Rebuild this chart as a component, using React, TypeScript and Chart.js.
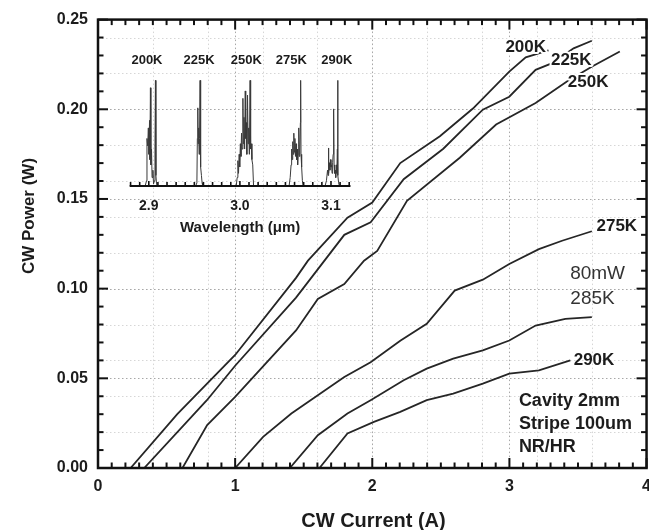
import React, { useEffect, useRef } from "react";
import { Chart, registerables } from "chart.js";
Chart.register(...registerables);

const FONT = 'Arial, "Liberation Sans", Helvetica, sans-serif';

// ---------- main L-I curves: CW current (A) vs CW power (W) ----------
const CUR_200K = [0.238, 0.578, 1.0, 1.444, 1.531, 1.819, 2.0, 2.204, 2.493, 2.734, 2.999, 3.119, 3.285];
const PWR_200K = [0, 0.030, 0.063, 0.106, 0.1156, 0.1396, 0.148, 0.170, 0.185, 0.2004, 0.221, 0.229, 0.2328];

const CUR_225K = [0.337, 0.794, 1.0, 1.444, 1.796, 1.988, 2.229, 2.518, 2.806, 2.999, 3.191, 3.312, 3.468, 3.601];
const PWR_225K = [0, 0.0378, 0.057, 0.095, 0.130, 0.137, 0.161, 0.178, 0.1998, 0.207, 0.222, 0.2257, 0.234, 0.2382];

const CUR_250K = [0.616, 0.796, 1.0, 1.444, 1.603, 1.796, 1.94, 2.036, 2.253, 2.638, 2.903, 3.191, 3.422, 3.603, 3.805];
const PWR_250K = [0, 0.0239, 0.0396, 0.0767, 0.0943, 0.1026, 0.1156, 0.121, 0.149, 0.173, 0.1915, 0.2035, 0.2156, 0.2239, 0.2322];

const CUR_275K = [1.0, 1.204, 1.41, 1.796, 1.988, 2.204, 2.397, 2.601, 2.806, 2.999, 3.215, 3.384, 3.601];
const PWR_275K = [0, 0.0174, 0.0304, 0.0507, 0.059, 0.071, 0.0804, 0.0989, 0.105, 0.1137, 0.122, 0.1267, 0.132];

const CUR_285K = [1.399, 1.603, 1.819, 1.988, 2.229, 2.397, 2.59, 2.806, 2.999, 3.191, 3.408, 3.601];
const PWR_285K = [0, 0.0183, 0.0304, 0.0378, 0.0489, 0.0554, 0.061, 0.0656, 0.0711, 0.0794, 0.0832, 0.0841];

const CUR_290K = [1.615, 1.819, 2.012, 2.204, 2.397, 2.59, 2.806, 2.999, 3.215, 3.444];
const PWR_290K = [0, 0.0193, 0.0257, 0.0313, 0.0378, 0.0415, 0.047, 0.0526, 0.0544, 0.060];

// ---------- inset spectra: wavelength (um) vs normalised intensity ----------
const WL_200K = [2.8960, 2.8975, 2.8980, 2.8988, 2.8995, 2.9002, 2.9008, 2.9012, 2.9018, 2.9023, 2.9030, 2.9036, 2.9045, 2.9052, 2.9062, 2.9068, 2.9073, 2.9078, 2.9085, 2.9092];
const SP_200K = [0, 0.05, 0.45, 0.38, 0.55, 0.30, 0.62, 0.25, 0.93, 0.20, 0.35, 0.08, 0.15, 0.02, 0.05, 0.40, 1.0, 0.10, 0.02, 0];

const WL_225K = [2.9515, 2.9528, 2.9533, 2.9538, 2.9542, 2.9548, 2.9552, 2.9557, 2.9563, 2.9566, 2.9572, 2.9578, 2.9585, 2.9592];
const SP_225K = [0, 0.03, 0.45, 0.74, 0.40, 0.55, 0.30, 0.45, 1.0, 0.25, 0.18, 0.10, 0.03, 0];

const WL_250K = [2.9960, 2.9970, 2.9978, 2.9985, 2.9992, 2.9998, 3.0005, 3.0012, 3.0018, 3.0024, 3.0033, 3.0038, 3.0045, 3.0052, 3.0059, 3.0064, 3.0070, 3.0076, 3.0084, 3.0090, 3.0097, 3.0104, 3.0112, 3.0118, 3.0125, 3.0132, 3.0141, 3.0150];
const SP_250K = [0, 0.08, 0.24, 0.12, 0.30, 0.18, 0.40, 0.28, 0.50, 0.35, 0.83, 0.40, 0.65, 0.35, 0.90, 0.45, 0.60, 0.30, 0.86, 0.40, 0.55, 0.30, 1.0, 0.35, 0.40, 0.25, 0.20, 0];

const WL_275K = [3.0540, 3.0552, 3.0562, 3.0568, 3.0574, 3.0580, 3.0586, 3.0592, 3.0598, 3.0604, 3.0610, 3.0616, 3.0622, 3.0628, 3.0634, 3.0640, 3.0646, 3.0652, 3.0658, 3.0664, 3.0667, 3.0671, 3.0678, 3.0686, 3.0694];
const SP_275K = [0, 0.08, 0.20, 0.35, 0.25, 0.42, 0.30, 0.50, 0.32, 0.45, 0.28, 0.40, 0.25, 0.35, 0.20, 0.30, 0.55, 0.28, 0.35, 0.60, 1.0, 0.30, 0.18, 0.05, 0];

const WL_290K = [3.0935, 3.0950, 3.0962, 3.0968, 3.0972, 3.0976, 3.0982, 3.0988, 3.0994, 3.1000, 3.1006, 3.1012, 3.1018, 3.1024, 3.1029, 3.1034, 3.1040, 3.1046, 3.1052, 3.1058, 3.1064, 3.1070, 3.1073, 3.1077, 3.1084, 3.1092];
const SP_290K = [0, 0.05, 0.15, 0.10, 0.36, 0.12, 0.22, 0.15, 0.25, 0.18, 0.20, 0.12, 0.22, 0.30, 0.73, 0.20, 0.12, 0.15, 0.08, 0.20, 0.12, 0.35, 1.0, 0.10, 0.03, 0];

// ---------- text ----------
const X_TITLE = "CW Current (A)";
const Y_TITLE = "CW Power (W)";
const INSET_TITLE = "Wavelength (\u03bcm)";
const INSET_TICKS = [2.9, 3.0, 3.1];
const INSET_TAGS = ["200K", "225K", "250K", "275K", "290K"];
const INSET_TAG_WL = [2.8980, 2.9551, 3.0070, 3.0565, 3.1065];
const INSET_TITLE_WL = 3.0003;

// ---------- layout ----------
const CW = 660, CH = 530;
const AREA_L = 98, AREA_R = 652, AREA_T = 18, AREA_B = 468;
const INSET_PX_PER_UM = 920;
const INSET_29_PX = 149.3;
const INSET_BASE_PX = 185;
const INSET_UNIT_PX = 106;
const XI_MIN = 2.9 - (INSET_29_PX - AREA_L) / INSET_PX_PER_UM;
const XI_MAX = XI_MIN + (AREA_R - AREA_L) / INSET_PX_PER_UM;
const YI_MIN = -(AREA_B - INSET_BASE_PX) / INSET_UNIT_PX;
const YI_MAX = (INSET_BASE_PX - AREA_T) / INSET_UNIT_PX;

const pts = (xs: number[], ys: number[]) => xs.map((x, i) => ({ x, y: ys[i] }));

type Note = { text: string; x: number; y: number; size: number; bold: boolean; align: CanvasTextAlign; base: CanvasTextBaseline; halo: boolean; color: string };
const NOTES: Note[] = [
  { text: "200K", x: 3.119, y: 0.2347, size: 17, bold: true, align: "center", base: "middle", halo: true, color: "#1c1c1c" },
  { text: "225K", x: 3.451, y: 0.2272, size: 17, bold: true, align: "center", base: "middle", halo: true, color: "#1c1c1c" },
  { text: "250K", x: 3.574, y: 0.2150, size: 17, bold: true, align: "center", base: "middle", halo: true, color: "#1c1c1c" },
  { text: "275K", x: 3.783, y: 0.1347, size: 17, bold: true, align: "center", base: "middle", halo: false, color: "#1c1c1c" },
  { text: "80mW", x: 3.643, y: 0.1081, size: 19, bold: false, align: "center", base: "middle", halo: false, color: "#333" },
  { text: "285K", x: 3.606, y: 0.0942, size: 19, bold: false, align: "center", base: "middle", halo: false, color: "#333" },
  { text: "290K", x: 3.617, y: 0.0603, size: 17, bold: true, align: "center", base: "middle", halo: false, color: "#1c1c1c" },
  { text: "Cavity 2mm", x: 3.069, y: 0.0344, size: 18, bold: true, align: "left", base: "alphabetic", halo: false, color: "#1c1c1c" },
  { text: "Stripe 100um", x: 3.069, y: 0.0217, size: 18, bold: true, align: "left", base: "alphabetic", halo: false, color: "#1c1c1c" },
  { text: "NR/HR", x: 3.069, y: 0.0089, size: 18, bold: true, align: "left", base: "alphabetic", halo: false, color: "#1c1c1c" },
];

const decor = {
  id: "decor",
  beforeDatasetsDraw(chart: any) {
    const { ctx, chartArea: a, scales } = chart;
    const xs = scales.x, ys = scales.y;
    ctx.save();
    ctx.lineWidth = 1;
    ctx.setLineDash([1.5, 2.5]);
    // light grid
    ctx.strokeStyle = "#d6d6d6";
    for (let k = 1; k * 0.02 < 0.25; k++) {
      const py = Math.round(ys.getPixelForValue(k * 0.02)) + 0.5;
      ctx.beginPath(); ctx.moveTo(a.left, py); ctx.lineTo(a.right, py); ctx.stroke();
    }
    for (let k = 1; k * 0.4 < 4; k++) {
      const px = Math.round(xs.getPixelForValue(k * 0.4)) + 0.5;
      ctx.beginPath(); ctx.moveTo(px, a.top); ctx.lineTo(px, a.bottom); ctx.stroke();
    }
    // major grid
    ctx.strokeStyle = "#a8a8a8";
    for (let k = 1; k < 5; k++) {
      const py = Math.round(ys.getPixelForValue(k * 0.05)) + 0.5;
      ctx.beginPath(); ctx.moveTo(a.left, py); ctx.lineTo(a.right, py); ctx.stroke();
    }
    for (let k = 1; k < 4; k++) {
      const px = Math.round(xs.getPixelForValue(k)) + 0.5;
      ctx.beginPath(); ctx.moveTo(px, a.top); ctx.lineTo(px, a.bottom); ctx.stroke();
    }
    ctx.restore();
  },
  afterDatasetsDraw(chart: any) {
    const { ctx, chartArea: a, scales } = chart;
    const xs = scales.x, ys = scales.y, xi = scales.xi, yi = scales.yi;
    ctx.save();
    ctx.setLineDash([]);
    ctx.strokeStyle = "#111";
    // frame
    ctx.lineWidth = 2.5;
    ctx.strokeRect(a.left, a.top, a.right - a.left, a.bottom - a.top);
    // inward ticks
    ctx.lineWidth = 2;
    for (let k = 0; k <= 25; k++) {
      const py = ys.getPixelForValue(k * 0.01);
      const len = k % 5 === 0 ? 10 : 5.5;
      ctx.beginPath(); ctx.moveTo(a.left, py); ctx.lineTo(a.left + len, py); ctx.stroke();
      ctx.beginPath(); ctx.moveTo(a.right, py); ctx.lineTo(a.right - len, py); ctx.stroke();
    }
    for (let k = 0; k <= 40; k++) {
      const px = xs.getPixelForValue(k * 0.1);
      const len = k % 10 === 0 ? 10 : 5.5;
      ctx.beginPath(); ctx.moveTo(px, a.bottom); ctx.lineTo(px, a.bottom - len); ctx.stroke();
      ctx.beginPath(); ctx.moveTo(px, a.top); ctx.lineTo(px, a.top + len); ctx.stroke();
    }
    // inset axis
    const b = yi.getPixelForValue(0);
    const x0 = xi.getPixelForValue(2.879), x1 = xi.getPixelForValue(3.1214);
    ctx.lineWidth = 2.2;
    ctx.beginPath(); ctx.moveTo(x0, b); ctx.lineTo(x1, b); ctx.stroke();
    ctx.lineWidth = 1.6;
    for (let k = 288; k <= 312; k++) {
      const px = xi.getPixelForValue(k / 100);
      const len = k % 10 === 0 ? 5 : 4;
      ctx.beginPath(); ctx.moveTo(px, b); ctx.lineTo(px, b - len); ctx.stroke();
    }
    ctx.fillStyle = "#1c1c1c";
    ctx.textAlign = "center";
    ctx.textBaseline = "middle";
    ctx.font = `bold 14px ${FONT}`;
    INSET_TICKS.forEach((t) => ctx.fillText(t.toFixed(1), xi.getPixelForValue(t), b + 20));
    ctx.font = `bold 15px ${FONT}`;
    ctx.fillText(INSET_TITLE, xi.getPixelForValue(INSET_TITLE_WL), b + 42);
    ctx.restore();
  },
  afterDraw(chart: any) {
    const { ctx, scales } = chart;
    const xs = scales.x, ys = scales.y, xi = scales.xi, yi = scales.yi;
    ctx.save();
    ctx.fillStyle = "#1c1c1c";
    ctx.textAlign = "center";
    ctx.textBaseline = "middle";
    ctx.font = `bold 13px ${FONT}`;
    INSET_TAGS.forEach((t, i) => ctx.fillText(t, xi.getPixelForValue(INSET_TAG_WL[i]), yi.getPixelForValue(1.19)));
    NOTES.forEach((n) => {
      ctx.font = `${n.bold ? "bold " : ""}${n.size}px ${FONT}`;
      ctx.textAlign = n.align;
      ctx.textBaseline = n.base;
      const px = xs.getPixelForValue(n.x), py = ys.getPixelForValue(n.y);
      if (n.halo) {
        ctx.strokeStyle = "#fff";
        ctx.lineWidth = 4;
        ctx.lineJoin = "round";
        ctx.strokeText(n.text, px, py);
      }
      ctx.fillStyle = n.color;
      ctx.fillText(n.text, px, py);
    });
    ctx.fillStyle = "#1c1c1c";
    ctx.textAlign = "center";
    ctx.textBaseline = "middle";
    ctx.font = `bold 20px ${FONT}`;
    ctx.fillText(X_TITLE, 373.5, 521);
    ctx.translate(29, 216);
    ctx.rotate(-Math.PI / 2);
    ctx.font = `bold 17px ${FONT}`;
    ctx.fillText(Y_TITLE, 0, 0);
    ctx.restore();
  },
};

const LINE = "#262626";
const SPEC = "#3a3a3a";

export default function App() {
  const ref = useRef<HTMLCanvasElement>(null);
  useEffect(() => {
    if (!ref.current) return;
    const mainSet = (xs: number[], ys: number[]) => ({
      data: pts(xs, ys), borderColor: LINE, borderWidth: 1.8, pointRadius: 0, tension: 0, fill: false, xAxisID: "x", yAxisID: "y",
    });
    const specSet = (xs: number[], ys: number[]) => ({
      data: pts(xs, ys), borderColor: SPEC, borderWidth: 1, pointRadius: 0, tension: 0, fill: false, xAxisID: "xi", yAxisID: "yi",
    });
    const chart = new Chart(ref.current, {
      type: "line",
      data: {
        datasets: [
          mainSet(CUR_200K, PWR_200K),
          mainSet(CUR_225K, PWR_225K),
          mainSet(CUR_250K, PWR_250K),
          mainSet(CUR_275K, PWR_275K),
          mainSet(CUR_285K, PWR_285K),
          mainSet(CUR_290K, PWR_290K),
          specSet(WL_200K, SP_200K),
          specSet(WL_225K, SP_225K),
          specSet(WL_250K, SP_250K),
          specSet(WL_275K, SP_275K),
          specSet(WL_290K, SP_290K),
        ] as any,
      },
      options: {
        animation: false,
        responsive: false,
        maintainAspectRatio: false,
        layout: { padding: { top: AREA_T, right: CW - AREA_R, left: 0, bottom: 0 } },
        plugins: { legend: { display: false }, tooltip: { enabled: false } },
        scales: {
          x: {
            type: "linear", min: 0, max: 4,
            afterFit: (s: any) => { s.height = CH - AREA_B; },
            grid: { display: false, drawTicks: false },
            border: { display: false },
            ticks: { stepSize: 1, padding: 9, color: "#1c1c1c", font: { family: FONT, size: 16, weight: "bold" }, callback: (v: any) => String(Math.round(Number(v))) },
          },
          y: {
            type: "linear", min: 0, max: 0.25,
            afterFit: (s: any) => { s.width = AREA_L; },
            grid: { display: false, drawTicks: false },
            border: { display: false },
            ticks: { stepSize: 0.05, padding: 10, color: "#1c1c1c", font: { family: FONT, size: 16, weight: "bold" }, callback: (v: any) => Number(v).toFixed(2) },
          },
          xi: { type: "linear", display: false, min: XI_MIN, max: XI_MAX },
          yi: { type: "linear", display: false, min: YI_MIN, max: YI_MAX },
        } as any,
      },
      plugins: [decor],
    });
    return () => chart.destroy();
  }, []);
  return (
    <div style={{ position: "absolute", left: 0, top: 0, width: 649, height: 530, overflow: "hidden", background: "#fff" }}>
      <canvas ref={ref} width={CW} height={CH} style={{ width: CW, height: CH, display: "block" }} />
    </div>
  );
}
